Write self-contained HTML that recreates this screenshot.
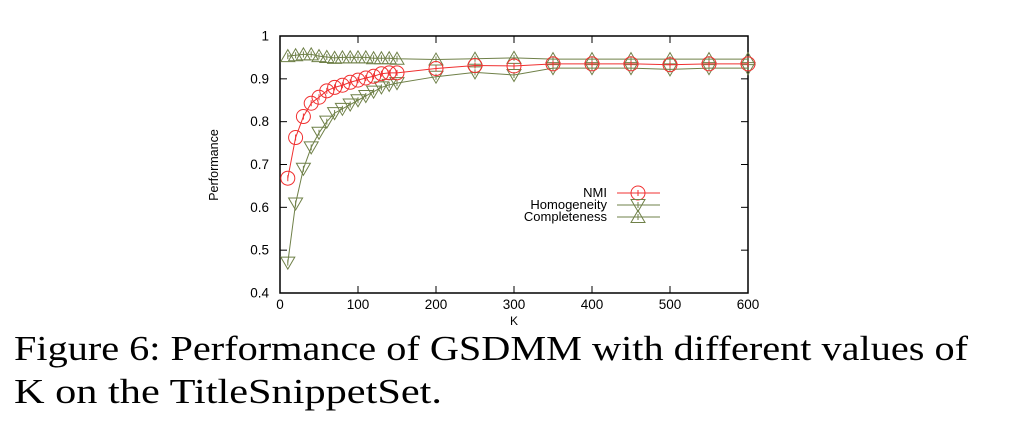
<!DOCTYPE html>
<html><head><meta charset="utf-8"><style>
html,body{margin:0;padding:0;background:#fff;width:1024px;height:429px;overflow:hidden}
svg{display:block}
</style></head><body>
<svg id="s" width="1024" height="429" xmlns="http://www.w3.org/2000/svg">
<rect x="280" y="36" width="468" height="257" fill="none" stroke="#000" stroke-width="1.5"/>
<g font-family="Liberation Sans, sans-serif" font-size="13.5" fill="#000" id="ticks"></g>
<text x="0" y="0" font-family="Liberation Sans, sans-serif" font-size="12.5" transform="translate(218,165) rotate(-90)" text-anchor="middle">Performance</text>
<text x="514" y="325" font-family="Liberation Sans, sans-serif" font-size="12" text-anchor="middle">K</text>
<g id="plot"></g>
<g font-family="Liberation Sans, sans-serif" font-size="13" text-anchor="end">
<text x="607" y="197">NMI</text>
<text x="607" y="209">Homogeneity</text>
<text x="607" y="221">Completeness</text>
</g>
<g font-family="Liberation Serif, serif" font-size="35" fill="#000">
<text x="14" y="360" textLength="954" lengthAdjust="spacingAndGlyphs">Figure 6:  Performance of GSDMM with different values of</text>
<text x="14" y="403" textLength="428" lengthAdjust="spacingAndGlyphs">K on the TitleSnippetSet.</text>
</g>
</svg>
<script>
var NS="http://www.w3.org/2000/svg";
function X(k){return 280+k/600*468}
function Y(v){return 293-(v-0.4)/0.6*257}
function el(p,t,a,txt){var e=document.createElementNS(NS,t);for(var k in a)e.setAttribute(k,a[k]);if(txt!=null)e.textContent=txt;p.appendChild(e);return e}
var tk=document.getElementById('ticks');
[0.4,0.5,0.6,0.7,0.8,0.9,1].forEach(function(v){var y=Y(v);
 el(tk,'line',{x1:280,x2:287,y1:y,y2:y,stroke:'#000'});el(tk,'line',{x1:741,x2:748,y1:y,y2:y,stroke:'#000'});
 el(tk,'text',{x:269,y:y+4.5,'text-anchor':'end'},v==1?'1':v.toFixed(1));});
[0,100,200,300,400,500,600].forEach(function(k){var x=X(k);
 el(tk,'line',{x1:x,x2:x,y1:293,y2:286,stroke:'#000'});el(tk,'line',{x1:x,x2:x,y1:36,y2:43,stroke:'#000'});
 el(tk,'text',{x:x,y:309,'text-anchor':'middle'},String(k));});
var K=[10,20,30,40,50,60,70,80,90,100,110,120,130,140,150,200,250,300,350,400,450,500,550,600];
var nmi=[0.668,0.763,0.812,0.843,0.857,0.872,0.88,0.885,0.892,0.897,0.902,0.906,0.912,0.914,0.914,0.924,0.931,0.93,0.935,0.935,0.935,0.933,0.935,0.935];
var hom=[0.471,0.609,0.69,0.74,0.774,0.8,0.82,0.83,0.84,0.85,0.86,0.87,0.88,0.886,0.89,0.905,0.915,0.909,0.925,0.925,0.925,0.922,0.925,0.925];
var com=[0.953,0.955,0.957,0.957,0.953,0.951,0.949,0.95,0.95,0.95,0.95,0.948,0.948,0.948,0.947,0.945,0.947,0.949,0.946,0.946,0.946,0.946,0.946,0.946];
var p=document.getElementById('plot');
function series(d,col,mk){
 el(p,'polyline',{points:K.map(function(k,i){return X(k)+','+Y(d[i])}).join(' '),fill:'none',stroke:col,'stroke-width':1});
 K.forEach(function(k,i){marker(X(k),Y(d[i]),col,mk);});
}
function marker(x,y,col,mk){
 el(p,'line',{x1:x,x2:x,y1:y-3,y2:y+3,stroke:col,'stroke-width':1});
 if(mk=='c')el(p,'circle',{cx:x,cy:y,r:7,fill:'none',stroke:col,'stroke-width':1});
 else if(mk=='d')el(p,'polygon',{points:(x-7)+','+(y-5.5)+' '+(x+7)+','+(y-5.5)+' '+x+','+(y+6.5),fill:'none',stroke:col,'stroke-width':1});
 else el(p,'polygon',{points:(x-7)+','+(y+5.5)+' '+(x+7)+','+(y+5.5)+' '+x+','+(y-6.5),fill:'none',stroke:col,'stroke-width':1});
}
var G='#6f8048',R='#f03030';
series(com,G,'u');series(hom,G,'d');series(nmi,R,'c');
[[193,R,'c'],[205,G,'d'],[217,G,'u']].forEach(function(a){el(p,'line',{x1:617,x2:660,y1:a[0],y2:a[0],stroke:a[1]});marker(638,a[0],a[1],a[2]);});
</script>
</body></html>
